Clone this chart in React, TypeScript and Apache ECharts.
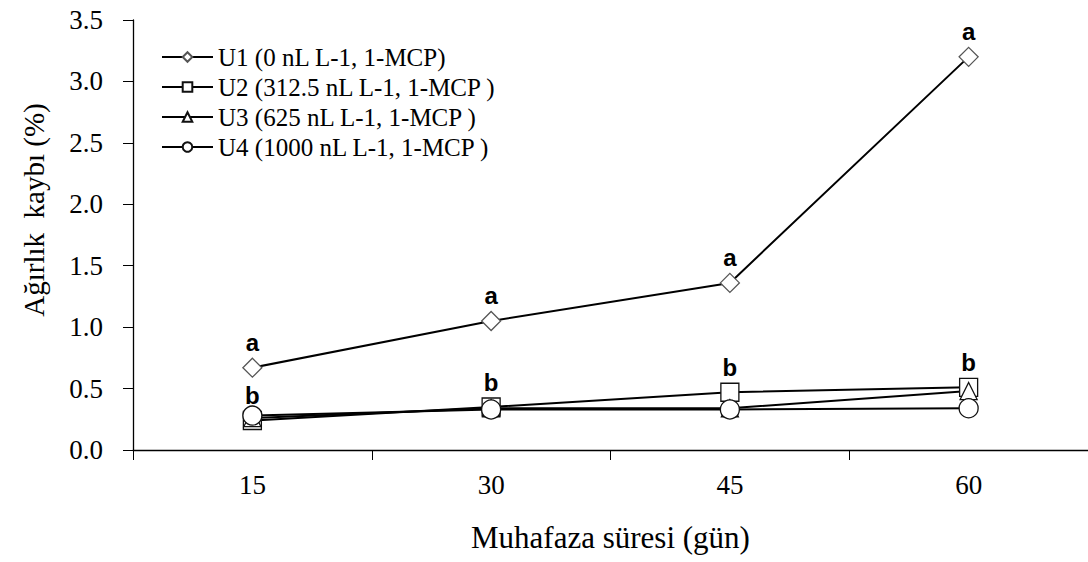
import React, { useEffect, useRef } from "react";
import * as echarts from "echarts";

const categories = ["15", "30", "45", "60"];
const u1 = [0.67, 1.05, 1.36, 3.2];
const u2 = [0.24, 0.35, 0.47, 0.51];
const u3 = [0.26, 0.34, 0.34, 0.48];
const u4 = [0.28, 0.33, 0.33, 0.34];
const u1Letters = ["a", "a", "a", "a"];
const u2Letters = ["b", "b", "b", "b"];
const seriesNames = [
  "U1 (0 nL L-1, 1-MCP)",
  "U2 (312.5 nL L-1, 1-MCP )",
  "U3 (625 nL L-1, 1-MCP )",
  "U4 (1000 nL L-1, 1-MCP )",
];

const serif = "Liberation Serif";

export default function App() {
  const ref = useRef<HTMLDivElement>(null);
  useEffect(() => {
    if (!ref.current) return;
    const chart = echarts.init(ref.current, null, { renderer: "svg" });
    const mk = (name: string, data: number[], symbol: string, size: number, letters?: string[], border = "#111") => ({
      name,
      type: "line",
      data,
      symbol,
      symbolSize: size,
      lineStyle: { color: "#000", width: 2 },
      itemStyle: { color: "#fff", borderColor: border, borderWidth: 1.3 },
      label: letters
        ? {
            show: true,
            position: "top",
            distance: 3,
            formatter: (p: any) => letters[p.dataIndex],
            fontFamily: "Liberation Sans",
            fontWeight: "bold",
            fontSize: 24,
            color: "#000",
          }
        : { show: false },
      emphasis: { disabled: true },
      z: 3,
    });
    chart.setOption({
      animation: false,
      backgroundColor: "#fff",
      grid: { left: 133, top: 20, width: 958, height: 430 },
      legend: {
        orient: "vertical",
        left: 156,
        top: 39,
        itemWidth: 51,
        itemHeight: 12,
        itemGap: 4,
        textStyle: { fontFamily: serif, fontSize: 25, color: "#000", lineHeight: 26 },
        data: seriesNames,
      },
      xAxis: {
        type: "category",
        data: categories,
        boundaryGap: true,
        axisLine: { lineStyle: { color: "#000", width: 1.3 } },
        axisTick: { show: true, length: 10, lineStyle: { color: "#000" } },
        axisLabel: { fontFamily: serif, fontSize: 27, color: "#000", margin: 21 },
        name: "Muhafaza süresi (gün)",
        nameLocation: "middle",
        nameGap: 72,
        nameTextStyle: { fontFamily: serif, fontSize: 31, color: "#000" },
      },
      yAxis: {
        type: "value",
        min: 0,
        max: 3.5,
        interval: 0.5,
        splitLine: { show: false },
        axisLine: { show: true, lineStyle: { color: "#000", width: 1.3 } },
        axisTick: { show: true, length: 10, lineStyle: { color: "#000" } },
        axisLabel: {
          fontFamily: serif,
          fontSize: 27,
          color: "#000",
          margin: 30,
          formatter: (v: number) => v.toFixed(1),
        },
        name: "Ağırlık  kaybı (%)",
        nameLocation: "middle",
        nameGap: 85,
        nameTextStyle: { fontFamily: serif, fontSize: 29, color: "#000", padding: [0, 0, 0, 50] },
      },
      series: [
        mk(seriesNames[0], u1, "diamond", 19, u1Letters, "#555"),
        mk(seriesNames[1], u2, "rect", 18, u2Letters),
        mk(seriesNames[2], u3, "triangle", 17),
        mk(seriesNames[3], u4, "circle", 19),
      ],
    });
    return () => chart.dispose();
  }, []);
  return (
    <div
      ref={ref}
      style={{ position: "fixed", left: 0, top: 0, width: 1088, height: 562, background: "#fff" }}
    />
  );
}
